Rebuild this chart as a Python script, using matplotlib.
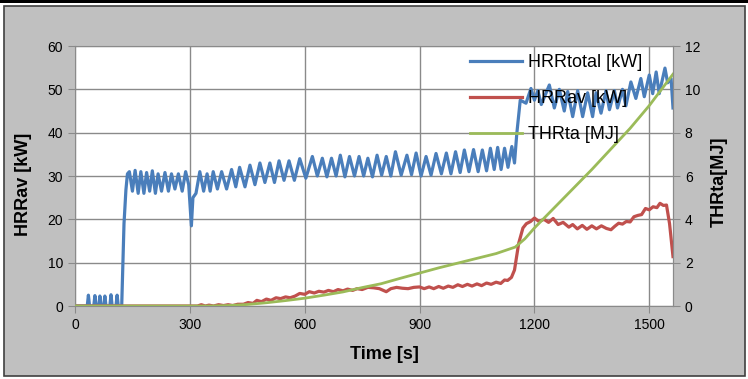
import matplotlib
matplotlib.use("Agg")
import matplotlib.pyplot as plt
from matplotlib.patches import Rectangle

plt.rcParams['font.family'] = ['Liberation Sans', 'DejaVu Sans']

# HRRtotal [kW]
t_total = [0, 32, 35, 38, 49, 52, 55, 62, 65, 68, 75, 78, 81, 91, 94, 97, 107, 110, 113,
           122, 128, 133, 137,
           142, 150, 157, 165, 172, 180, 187, 195, 202, 210, 217, 226, 235, 244, 252, 261,
           270, 280, 289, 297, 304, 308, 316,
           326, 336, 345, 353, 361, 372, 383, 396, 409, 420, 430, 444, 457, 470, 483, 496,
           509, 521, 533, 546, 559, 573, 587, 603, 620,
           633, 646, 658, 670, 682, 693, 705, 717, 730, 742, 754, 765, 777, 789, 801, 813,
           825, 837, 852, 867, 879, 891, 904, 917, 930, 943, 957, 970, 982, 994, 1006,
           1017, 1029, 1041, 1053, 1064, 1075, 1085, 1095, 1104, 1113, 1122, 1131,
           1141, 1148, 1154, 1163, 1178, 1191, 1200, 1209, 1218, 1239, 1252, 1265, 1278,
           1287, 1300, 1313, 1326, 1339, 1352, 1361, 1374, 1387, 1396, 1409, 1417, 1430,
           1439, 1452, 1465, 1478, 1487, 1500, 1509, 1518, 1526, 1541, 1548, 1557, 1562]
hrr_total = [0, 0, 2.5, 0, 0, 2.4, 0, 0, 2.3, 0, 0, 2.3, 0, 0, 2.6, 0, 0, 2.5, 0,
             0, 19, 26.8, 30.5,
             31, 26.5, 31.3, 26, 31, 26, 30.8, 26.5, 31.2, 26, 30.5, 26.5, 30.8, 26.5, 30.5, 27,
             30.5, 26.5, 31, 28, 18.5, 25, 26,
             31, 26.5, 30.5, 26.5, 31, 27, 31, 27, 31.5, 27.5, 32, 27.5, 32.5, 28, 33, 28.5,
             33, 28.5, 33.5, 29, 33.5, 29, 34, 29.5, 34.5,
             30, 34.1, 29.8, 34.1, 30, 34.8, 29.8, 34.5, 30, 34.5, 30, 34.1, 29.8, 34.8, 30.2, 34.5,
             30, 35.6, 30.2, 34.8, 30.3, 35.3, 30, 34.5, 30.2, 35.2, 30.5, 35.3, 30.5, 35.6, 30.8,
             36, 31, 36.1, 31, 36, 31.2, 36.4, 31.5, 36.6, 31.5, 36.4, 32,
             36.8, 33, 39.8, 47.5, 46.8, 50.2, 47.5, 49.7, 46.5, 51, 45.7, 50, 45,
             49.5, 43.7, 49.7, 43.7, 49.2, 43.7, 49.2, 44.5, 49.7, 45.3, 49.7, 45.7, 50,
             46.2, 51.7, 47.9, 52.5, 48.3, 53.3, 49, 54, 49, 54.9, 51.5, 52.5, 45.7]

# HRRav [kW]
t_av = [0, 320, 330, 340, 350, 362, 375, 388, 400, 412, 425, 440, 452, 465, 475, 487, 500,
        512, 525, 537, 550, 562, 575, 587, 600, 612, 625, 637, 650, 662, 675, 687, 700, 712,
        725, 737, 750, 765, 780, 795, 813, 825, 840, 855, 870, 885, 900, 912, 925, 937, 950,
        962, 975, 987, 1000, 1012, 1025, 1037, 1050, 1062, 1075, 1087, 1100, 1112, 1122,
        1130, 1140, 1148, 1159, 1170, 1179, 1190, 1200, 1212, 1225, 1237, 1249, 1262, 1275,
        1290, 1300, 1312, 1325, 1337, 1350, 1362, 1375, 1388, 1400, 1410, 1420, 1430, 1440,
        1450, 1460, 1470, 1480, 1490, 1500, 1510, 1520, 1528, 1537, 1545, 1553, 1562]
hrr_av = [0, 0, 0.3, 0, 0.2, 0, 0.3, 0.1, 0.3, 0.1, 0.4, 0.4, 0.8, 0.6, 1.3, 1.0, 1.6,
          1.3, 1.9, 1.7, 2.1, 1.9, 2.3, 2.9, 2.7, 3.3, 3.0, 3.4, 3.2, 3.6, 3.3, 3.8, 3.5, 3.9,
          3.6, 4.0, 3.8, 4.3, 4.2, 4.0, 3.3, 4.0, 4.3, 4.1, 4.0, 4.3, 4.4, 4.0, 4.4, 4.0, 4.5,
          4.1, 4.6, 4.3, 4.9, 4.5, 5.0, 4.6, 5.1, 4.7, 5.3, 5.0, 5.5, 5.2, 6.0,
          5.9, 6.6, 8.3, 14.5, 18, 19, 19.5, 20.3, 19.5, 20.0, 19.3, 20.2, 18.8, 19.3,
          18.2, 18.8, 17.8, 18.6, 17.7, 18.5, 17.8, 18.5, 17.9, 17.6, 18.4, 19.1, 18.9, 19.5,
          19.4, 20.6, 20.9, 21.1, 22.5, 22.2, 22.9, 22.7, 23.7, 23.2, 23.3, 19, 11.4]

# THRta [MJ]
t_thr = [0, 350, 400, 450, 500, 550, 600, 650, 700, 750, 800, 850, 900, 950, 1000, 1050,
         1100, 1150, 1175, 1200, 1250, 1300, 1350, 1400, 1450, 1500, 1562]
thr = [0, 0, 0.02, 0.07, 0.15, 0.25, 0.36, 0.5, 0.65, 0.85, 1.03, 1.28, 1.52, 1.76, 1.98,
       2.2, 2.42, 2.72, 3.1, 3.6, 4.5, 5.4, 6.3, 7.25, 8.2, 9.25, 10.7]

W, H = 748, 379
fig = plt.figure(figsize=(W / 100, H / 100), dpi=100, facecolor='white')

# gray chart area with dark border, black bar at the top
fig.patches.append(Rectangle((4 / W, 1 - 376 / H), 741 / W, 370 / H, transform=fig.transFigure,
                             facecolor='#c0c0c0', edgecolor='#404040', lw=1.2, zorder=-5))
fig.patches.append(Rectangle((0, 1 - 3.3 / H), 1, 3.3 / H, transform=fig.transFigure,
                             facecolor='black', edgecolor='none', zorder=-5))

ax = fig.add_axes([75 / W, 1 - 306 / H, 598 / W, 260 / H])
ax.set_facecolor('white')
grid_c = '#8a8a8a'
ax.grid(True, color=grid_c, lw=1)
ax.set_axisbelow(True)

l1, = ax.plot(t_total, hrr_total, color='#4a7ebb', lw=2.3, label='HRRtotal [kW]')
l2, = ax.plot(t_av, hrr_av, color='#c0504d', lw=2.3, label='HRRav [kW]')

ax.set_xlim(0, 1562)
ax.set_ylim(0, 60)
ax.set_xticks([0, 300, 600, 900, 1200, 1500])
ax.set_yticks(range(0, 61, 10))
for s in ax.spines.values():
    s.set_color(grid_c)
ax.tick_params(colors=grid_c, labelcolor='black', labelsize=10, length=5, direction='out')
ax.set_xlabel('Time [s]', fontsize=13, fontweight='bold', va='center')
ax.xaxis.set_label_coords(0.517, -0.185)
ax.set_ylabel('HRRav [kW]', fontsize=13, fontweight='bold', va='center')
ax.yaxis.set_label_coords(-0.086, 0.467)

ax2 = ax.twinx()
l3, = ax2.plot(t_thr, thr, color='#9bbb59', lw=2.0, label='THRta [MJ]')
ax2.set_ylim(0, 12)
ax2.set_yticks(range(0, 13, 2))
for s in ax2.spines.values():
    s.set_visible(False)
ax2.spines['right'].set_visible(True)
ax2.spines['right'].set_color(grid_c)
ax2.tick_params(colors=grid_c, labelcolor='black', labelsize=10, length=5, direction='out')
ax2.set_ylabel('THRta[MJ]', fontsize=13, fontweight='bold', va='center')
ax2.yaxis.set_label_coords(1.077, 0.477)

ax2.legend(handles=[l1, l2, l3], loc='upper left', bbox_to_anchor=(470 / W, 1 - 54 / H),
           bbox_transform=fig.transFigure, frameon=False, fontsize=13,
           handlelength=2.9, handletextpad=0.3, labelspacing=1.05,
           borderpad=0, borderaxespad=0)

fig.savefig('out.png', dpi=100, facecolor=fig.get_facecolor())
